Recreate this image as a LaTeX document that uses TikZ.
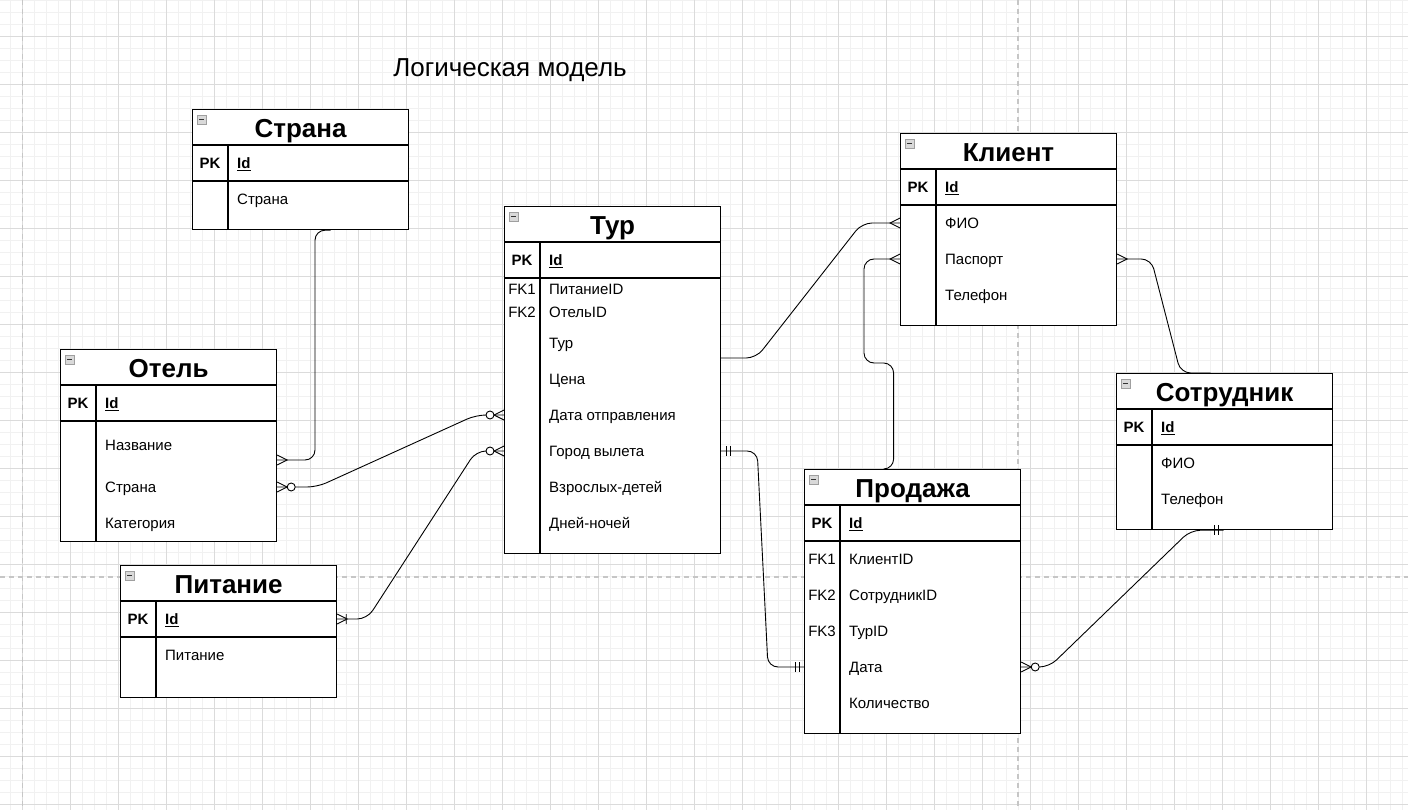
\documentclass[tikz,border=0pt]{standalone}
\usepackage{fontspec}
\setmainfont{Liberation Sans}
\usepackage{tikz}
\usetikzlibrary{arrows.meta, positioning}

\tikzset{
  gmin/.style={draw=gray!11, line width=0.8pt},
  gmaj/.style={draw=gray!28, line width=0.8pt},
  pgbrk/.style={draw=gray!45, line width=1.2pt, dash pattern=on 5pt off 4pt},
  tbl/.style={draw, fill=white, line width=1.2pt, minimum width=216pt, anchor=north west, inner sep=0pt},
  tbl line/.style={line width=1.2pt},
  ttl/.style={font=\fontsize{26}{30}\selectfont\bfseries, text height=18.6pt, text depth=0pt, inner sep=0pt},
  head/.style={font=\fontsize{26}{30}\selectfont, text height=18.6pt, text depth=0pt, inner sep=0pt},
  key/.style={font=\fontsize{15}{17}\selectfont\bfseries, text height=10.7pt, text depth=0pt, inner sep=0pt},
  fk/.style={font=\fontsize{15}{17}\selectfont, text height=10.7pt, text depth=0pt, inner sep=0pt},
  fld/.style={font=\fontsize{15}{17}\selectfont, text height=10.7pt, text depth=0pt, inner sep=0pt, anchor=west},
  icon/.style={draw=gray!75, fill=gray!30, minimum size=9pt, inner sep=0pt, line width=0.7pt,
    path picture={\draw[black!80, line width=1.3pt] ([xshift=-2.5pt]path picture bounding box.center) -- ([xshift=2.5pt]path picture bounding box.center);}},
  rel/.style={line width=0.9pt, rounded corners=10pt},
  crow/.pic={\draw[line width=0.9pt] (0,-5) -- (10,0) -- (0,5);},
  zcrow/.pic={\draw[line width=0.9pt] (0,-5) -- (10,0) -- (0,5);
    \draw[line width=0.9pt, fill=white] (14,0) circle[radius=4pt];},
  ocrow/.pic={\draw[line width=0.9pt] (0,-5) -- (10,0) -- (0,5) (9,-5) -- (9,5);},
  bars/.pic={\draw[line width=0.9pt] (5,-5) -- (5,5) (9,-5) -- (9,5);}
}

% table frame: name, x, y, height, title
\newcommand{\erbox}[5]{%
  \node[tbl, minimum height=#4pt] (#1) at (#2,#3) {};
  \draw[tbl line] ([yshift=-36pt]#1.north west) -- ([yshift=-36pt]#1.north east);
  \draw[tbl line] ([yshift=-72pt]#1.north west) -- ([yshift=-72pt]#1.north east);
  \draw[tbl line] ([xshift=36pt,yshift=-36pt]#1.north west) -- ([xshift=36pt]#1.south west);
  \node[icon] (#1-i) at ([xshift=9.5pt,yshift=-10.5pt]#1.north west) {};
  \node[ttl] (#1-t) at ([yshift=-19pt]#1.north) {#5};
  \node[key] (#1-pk) at ([xshift=18pt,yshift=-54pt]#1.north west) {PK};
  \node[fld, font=\fontsize{15}{17}\selectfont\bfseries] (#1-id) at ([xshift=45pt,yshift=-54pt]#1.north west) {\underline{Id}};
}

\begin{document}
\begin{tikzpicture}[x=1pt, y=-1pt]
  \fill[white] (0,0) rectangle (1408,810);
  \useasboundingbox (0,0) rectangle (1408,810);

  % grid
  \foreach \i in {0,...,116} \draw[gmin] ({10.7+12*\i},0) -- ++(0,810);
  \foreach \i in {0,...,67} \draw[gmin] (0,{12*\i}) -- ++(1408,0);
  \foreach \i in {0,...,28} \draw[gmaj] ({22.7+48*\i},0) -- ++(0,810);
  \foreach \i in {0,...,16} \draw[gmaj] (0,{36+48*\i}) -- ++(1408,0);
  \draw[pgbrk] (22.7,0) -- (22.7,810);
  \draw[pgbrk] (1018,0) -- (1018,810);
  \draw[pgbrk] (0,577) -- (1408,577);

  \node[head] (titel) at (510,67) {Логическая модель};

  % tables
  \erbox{strana}{192}{109}{120}{Страна}
  \node[fld] (strana-name) at (237,199) {Страна};

  \erbox{tur}{504}{206}{347}{Тур}
  \node[fk] (tur-fk1) at (522,289) {FK1};
  \node[fk] (tur-fk2) at (522,312) {FK2};
  \node[fld] (tur-pit) at (549,289) {ПитаниеID};
  \node[fld] (tur-ot) at (549,312) {ОтельID};
  \node[fld] (tur-name) at (549,343) {Тур};
  \node[fld] (tur-cena) at (549,379) {Цена};
  \node[fld] (tur-dat) at (549,415) {Дата отправления};
  \node[fld] (tur-gor) at (549,451) {Город вылета};
  \node[fld] (tur-vzr) at (549,487) {Взрослых-детей};
  \node[fld] (tur-dn) at (549,523) {Дней-ночей};

  \erbox{otel}{60}{349}{192}{Отель}
  \node[fld] (otel-naz) at (105,445) {Название};
  \node[fld] (otel-str) at (105,487) {Страна};
  \node[fld] (otel-kat) at (105,523) {Категория};

  \erbox{pit}{120}{565}{132}{Питание}
  \node[fld] (pit-name) at (165,655) {Питание};

  \erbox{kl}{900}{133}{192}{Клиент}
  \node[fld] (kl-fio) at (945,223) {ФИО};
  \node[fld] (kl-pas) at (945,259) {Паспорт};
  \node[fld] (kl-tel) at (945,295) {Телефон};

  \erbox{prod}{804}{469}{264}{Продажа}
  \node[fk] (prod-fk1) at (822,559) {FK1};
  \node[fk] (prod-fk2) at (822,595) {FK2};
  \node[fk] (prod-fk3) at (822,631) {FK3};
  \node[fld] (prod-kl) at (849,559) {КлиентID};
  \node[fld] (prod-sot) at (849,595) {СотрудникID};
  \node[fld] (prod-tur) at (849,631) {ТурID};
  \node[fld] (prod-dat) at (849,667) {Дата};
  \node[fld] (prod-kol) at (849,703) {Количество};

  \erbox{sot}{1116}{373}{156}{Сотрудник}
  \node[fld] (sot-fio) at (1161,463) {ФИО};
  \node[fld] (sot-tel) at (1161,499) {Телефон};

  % relations
  \draw[rel] ([xshift=30pt]strana.south) -| (315,460) -- ([yshift=-111pt]otel.north east);
  \draw[rel] (otel-str -| otel.east) -- ++(40,0) -- ([xshift=-28pt]tur-dat -| tur.west) -- (tur-dat -| tur.west);
  \draw[rel] (pit-id -| pit.east) -- ++(30,0) -- ([xshift=-28pt]tur-gor -| tur.west) -- (tur-gor -| tur.west);
  \draw[rel] ([yshift=-152pt]tur.north east) -- ++(35,0) -- ([xshift=-38pt]kl-fio -| kl.west) -- (kl-fio -| kl.west);
  \draw[rel] (kl-pas -| kl.west) -- ++(-36,0) -- ++(0,104) -| ([xshift=-19pt]prod.north) -- ([xshift=-27pt]prod.north);
  \draw[rel] (kl-pas -| kl.east) -- ++(34,0) -- ([xshift=-44pt]sot.north) -- ([xshift=-14pt]sot.north);
  \draw[rel] (tur-gor -| tur.east) -- ++(36,0) -- ([xshift=-36pt]prod-dat -| prod.west) -- (prod-dat -| prod.west);
  \draw[rel] (prod-dat -| prod.east) -- ++(28,0) -- ([xshift=-34pt]sot.south) -- ([xshift=-1pt]sot.south);

  % ends
  \pic at ([yshift=-111pt]otel.north east) {crow};
  \pic at (otel-str -| otel.east) {zcrow};
  \pic[xscale=-1] at (tur-dat -| tur.west) {zcrow};
  \pic at (pit-id -| pit.east) {ocrow};
  \pic[xscale=-1] at (tur-gor -| tur.west) {zcrow};
  \pic[xscale=-1] at (kl-fio -| kl.west) {crow};
  \pic[xscale=-1] at (kl-pas -| kl.west) {crow};
  \pic at (kl-pas -| kl.east) {crow};
  \pic at (tur-gor -| tur.east) {bars};
  \pic[xscale=-1] at (prod-dat -| prod.west) {bars};
  \pic at (prod-dat -| prod.east) {zcrow};
  \pic[xscale=-1] at ([xshift=-1pt]sot.south) {bars};
\end{tikzpicture}
\end{document}
